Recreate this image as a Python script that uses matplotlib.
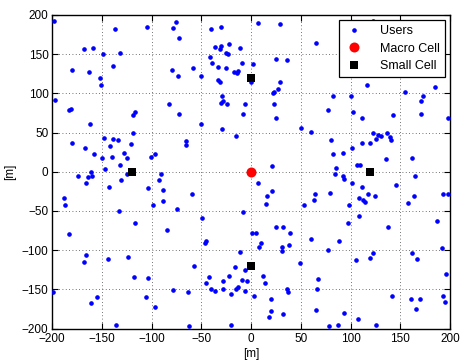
import matplotlib
matplotlib.use("Agg")
import matplotlib.pyplot as plt

plt.rcParams['font.family'] = ['Liberation Sans', 'DejaVu Sans']

# User positions [m]
users_x = [
    -198, -137, -105, -78, -75, -72, -168, -159, -149, -132, -180, -163, -139, -152, -151, -79, -73,
    -197, -183, -181, -119, -117, -82, -72, -162, -119, -180, -167, -158, -148, -139, -134, -142, -121,
    -150, -140, -128, -125, -101, -97, -132, -147, -161, -174, -125, -90,
    -40, -30, 7, 29, 65, -36, -30, -31, -22, -11, -25, -23, -41, -39, 25, 36, -9, 2,
    -58, -33, -25, -17, -14, -13, -50, -33, -31, 0, 29, 27, 23, 22, -29, -28, -30, -24, -6, 23,
    -8, 25, -50, -29, -15, 50, 60, -65, -65, 21,
    123, 117, 82, 100, 155, 185, 173, 171, 77, 102, 112, 143, 171, 198,
    123, 128, 126, 131, 137, 140, 141, 80, 111, 120, 101, 82, 92, 136, 162, 85, 106, 109,
    -164, -160, -166, -131, -143, -92, -104, -88, -188, -187, -133, -99, -88, -74,
    -117, -84, -183, -166, -168, -144, -124, -118, -104, -199, -78, -155, -161, -106, -97, -136,
    7, 21, 16, 15, -59, 64, 63, 53, -8, -49, 1, 5, 25, 32, 39, 60,
    10, 8, 38, 31, 31, -45, -46, -11, 49, -57, -16, -6, 12, 14,
    -42, -22, -28, -9, -4, -45, 67, -40, -36, -28, -13, -15, -6, -63,
    -20, 3, 36, 37, 66, 20, 20, 18, 32, 65, -20, -62,
    84, 92, 93, 101, 112, 146, 165, 79, 108, 118, 113, 115, 125, 98, 164, 158, 193, 198,
    108, 97, 138, 187, 88, 77, 105, 120, 123, 162, 167, 192, 196,
    142, 161, 170, 193, 195, 166, 93, 107, 78, 87, 126,
]
users_y = [
    192, 182, 185, 183, 191, 171, 156, 158, 150, 151, 130, 127, 135, 119, 110, 130, 122,
    91, 79, 80, 72, 76, 86, 74, 61, 50, 36, 30, 22, 43, 42, 40, 33, 35,
    18, 19, 24, 18, 19, 22, 9, 4, 0, -5, -3, -3,
    182, 184, 190, 189, 164, 159, 161, 156, 163, 158, 151, 150, 146, 139, 144, 142, 139, 137,
    132, 134, 132, 127, 126, 128, 122, 117, 114, 114, 115, 105, 102, 100, 96, 90, 88, 87, 86, 87,
    73, 68, 61, 55, 45, 56, 51, 39, 34, 7,
    192, 111, 97, 97, 102, 108, 97, 90, 79, 76, 69, 72, 74, 69,
    49, 47, 42, 45, 49, 44, 41, 40, 37, 36, 30, 22, 24, 16, 18, 5, 8, 8,
    -7, -6, -14, -11, -20, -11, -21, -23, -33, -43, -50, -43, -37, -47,
    -66, -74, -79, -106, -115, -111, -109, -134, -136, -153, -151, -160, -168, -160, -173, -195,
    -15, -25, -31, -41, -28, -29, -36, -43, -51, -59, -78, -78, -71, -71, -78, -86,
    -91, -96, -93, -96, -101, -89, -91, -103, -116, -120, -122, -126, -133, -142,
    -134, -133, -139, -138, -140, -142, -137, -149, -152, -149, -147, -150, -152, -153,
    -156, -158, -149, -153, -150, -163, -178, -185, -181, -176, -195, -197,
    -3, -6, -9, -15, -19, -17, -6, -27, -34, -29, -36, -39, -31, -43, -31, -40, -28, -28,
    -56, -65, -70, -63, -89, -100, -113, -110, -104, -104, -111, -97, -130,
    -159, -162, -162, -159, -166, -175, -180, -188, -197, -196, -196,
]

macro_x = [0]
macro_y = [0]
small_x = [0, -120, 120, 0]
small_y = [120, 0, 0, -120]

fig = plt.figure(figsize=(4.61, 3.60), dpi=100)
ax = fig.add_axes([0.1128, 0.0875, 0.8635, 0.871])

ax.plot(users_x, users_y, '.', color='#0000ff', markersize=4.6, label='Users', zorder=3)
ax.plot(macro_x, macro_y, 'o', color='#ff0000', markersize=7.2, markeredgewidth=0, label='Macro Cell', zorder=4)
ax.plot(small_x, small_y, 's', color='black', markersize=6, markeredgewidth=0, label='Small Cell', zorder=4)

ticks = [-200, -150, -100, -50, 0, 50, 100, 150, 200]
ax.set_xlim(-200, 200)
ax.set_ylim(-200, 200)
ax.set_xticks(ticks)
ax.set_yticks(ticks)
ax.tick_params(direction='in', top=True, right=True, length=4, width=0.8, labelsize=8.5)
ax.tick_params(axis='x', pad=3.5)
ax.tick_params(axis='y', pad=2.5)
ax.grid(True, linestyle=(0, (1, 3)), color='#444444', linewidth=0.6)
for s in ax.spines.values():
    s.set_linewidth(1.0)

ax.set_xlabel('[m]', fontsize=8.5, labelpad=2)
ax.set_ylabel('[m]', fontsize=8.5, labelpad=4)

leg = ax.legend(loc='upper right', fontsize=9, fancybox=False, edgecolor='black', framealpha=1,
                borderaxespad=0.4, handlelength=1.6, handletextpad=1.3, labelspacing=0.45,
                borderpad=0.4)
leg.get_frame().set_linewidth(0.9)

fig.savefig('out.png', dpi=100)
